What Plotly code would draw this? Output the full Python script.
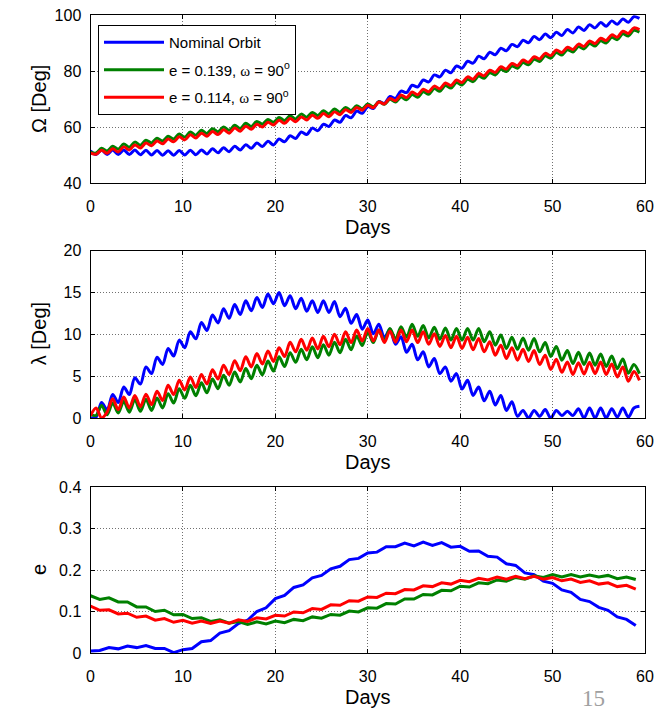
import numpy as np
import plotly.graph_objects as go

W, H = 665, 711

# ---------------- data ----------------
series_names = ["Nominal Orbit",
                "e = 0.139, <span style='font-family:Liberation Serif'>ω</span> = 90<sup>o</sup>",
                "e = 0.114, <span style='font-family:Liberation Serif'>ω</span> = 90<sup>o</sup>"]
colors = ["#0000FF", "#008000", "#FF0000"]

# time samples (days) for the oscillating RAAN / lambda histories
days_osc = np.arange(100) * 0.6
# time samples (days) for eccentricity histories
days_e = np.arange(60) * 1.0

raan_nominal = [51.5, 50.2, 51.8, 50.2, 51.8, 50.2, 51.8, 50.2, 51.8, 50.1,
                51.7, 50.0, 51.6, 49.9, 51.5, 49.9, 51.6, 50.0, 51.7, 50.1,
                51.8, 50.4, 52.2, 50.8, 52.6, 51.2, 53.1, 51.8, 53.7, 52.4,
                54.3, 53.0, 54.9, 53.6, 55.7, 54.7, 56.9, 55.9, 58.2, 57.3,
                59.6, 58.7, 61.0, 60.2, 62.5, 61.7, 64.1, 63.3, 65.7, 64.9,
                67.3, 66.6, 69.1, 68.4, 70.9, 70.2, 72.8, 72.3, 74.9, 74.3,
                76.8, 76.1, 78.6, 77.9, 80.3, 79.4, 81.8, 81.0, 83.5, 82.8,
                85.3, 84.4, 86.7, 85.8, 88.1, 87.2, 89.5, 88.7, 91.0, 90.1,
                92.3, 91.2, 93.2, 91.9, 93.8, 92.7, 94.8, 93.6, 95.7, 94.5,
                96.5, 95.4, 97.3, 96.0, 97.9, 96.7, 98.6, 97.4, 99.4, 98.8]
raan_e139 = [51.0, 50.7, 52.4, 51.4, 53.1, 52.1, 53.9, 52.8, 54.6, 53.5,
             55.3, 54.3, 56.0, 55.0, 56.7, 55.7, 57.5, 56.4, 58.2, 57.1,
             58.8, 57.7, 59.4, 58.3, 60.0, 58.8, 60.6, 59.5, 61.3, 60.2,
             62.0, 61.0, 62.7, 61.7, 63.4, 62.3, 64.0, 62.9, 64.6, 63.5,
             65.2, 64.1, 65.8, 64.7, 66.4, 65.3, 67.0, 65.9, 67.6, 66.5,
             68.2, 67.2, 69.0, 68.1, 69.9, 68.9, 70.7, 69.7, 71.6, 70.6,
             72.6, 71.7, 73.7, 72.8, 74.8, 73.9, 75.9, 75.0, 77.0, 76.2,
             78.2, 77.4, 79.4, 78.6, 80.6, 79.8, 81.8, 81.0, 83.0, 82.2,
             84.2, 83.4, 85.4, 84.6, 86.6, 85.7, 87.6, 86.8, 88.7, 87.9,
             89.8, 88.9, 90.8, 90.0, 92.0, 91.2, 93.3, 92.5, 94.5, 93.9]
raan_e114 = [50.7, 50.3, 51.7, 50.6, 52.2, 51.1, 52.9, 51.8, 53.6, 52.5,
             54.3, 53.3, 55.0, 54.0, 55.7, 54.7, 56.5, 55.4, 57.2, 56.1,
             57.8, 56.7, 58.4, 57.3, 59.0, 57.8, 59.6, 58.5, 60.3, 59.2,
             61.0, 60.0, 61.7, 60.7, 62.4, 61.3, 63.0, 61.9, 63.6, 62.5,
             64.2, 63.1, 64.8, 63.7, 65.4, 64.4, 66.2, 65.2, 67.0, 66.0,
             67.8, 66.9, 68.9, 68.2, 70.2, 69.4, 71.4, 70.5, 72.5, 71.5,
             73.5, 72.6, 74.6, 73.7, 75.7, 74.8, 76.8, 75.9, 77.9, 77.1,
             79.1, 78.3, 80.3, 79.5, 81.5, 80.7, 82.7, 81.9, 83.9, 83.1,
             85.1, 84.3, 86.3, 85.5, 87.5, 86.6, 88.5, 87.7, 89.6, 88.8,
             90.7, 89.8, 91.7, 90.9, 92.9, 92.1, 94.2, 93.4, 95.4, 94.8]

lam_nominal = [0.0, 0.1, 1.85, 0.95, 2.8, 1.85, 3.7, 2.8, 4.8, 4.05,
               6.1, 5.3, 7.25, 6.4, 8.3, 7.4, 9.3, 8.4, 10.3, 9.45,
               11.4, 10.45, 12.3, 11.35, 13.05, 11.9, 13.55, 12.35, 14.0, 12.8,
               14.4, 13.2, 14.8, 13.65, 15.0, 13.4, 14.6, 13.05, 14.3, 12.75,
               14.0, 12.6, 14.0, 12.6, 13.9, 12.1, 13.1, 11.3, 12.35, 10.6,
               11.7, 10.05, 11.2, 9.6, 10.6, 8.8, 9.7, 7.85, 8.8, 6.95,
               7.9, 6.1, 7.1, 5.3, 6.1, 4.4, 5.3, 3.45, 4.5, 2.7,
               3.7, 2.05, 3.2, 1.55, 2.7, 0.9, 1.95, 0.2, 0.9, 0.0,
               0.9, 0.2, 1.0, 0.0, 0.9, 0.3, 0.8, 0.3, 1.1, 0.0,
               1.2, 0.0, 1.2, 0.0, 1.1, 0.1, 1.2, 0.1, 1.2, 1.4]
lam_e139 = [0.4, 0.3, 1.5, 0.4, 1.8, 0.6, 2.0, 0.7, 2.2, 0.8,
            2.25, 0.9, 2.4, 1.2, 2.9, 1.8, 3.5, 2.35, 3.9, 2.65,
            4.2, 3.0, 4.65, 3.5, 5.1, 3.9, 5.5, 4.3, 5.9, 4.7,
            6.3, 5.15, 6.8, 5.6, 7.3, 6.15, 7.8, 6.65, 8.2, 6.95,
            8.5, 7.2, 8.75, 7.5, 9.05, 7.8, 9.4, 8.15, 9.8, 8.65,
            10.3, 9.0, 10.5, 9.2, 10.7, 9.4, 10.9, 9.65, 11.2, 9.75,
            11.05, 9.55, 10.85, 9.4, 10.75, 9.3, 10.7, 9.3, 10.7, 9.3,
            10.7, 9.1, 10.3, 8.7, 9.9, 8.3, 9.65, 8.2, 9.55, 8.1,
            9.5, 7.9, 9.0, 7.35, 8.55, 6.9, 8.05, 6.5, 7.85, 6.4,
            7.75, 6.3, 7.65, 6.15, 7.4, 5.9, 7.05, 5.35, 6.4, 5.3]
lam_e114 = [0.3, 1.2, 0.0, 0.7, 2.3, 1.0, 2.5, 1.2, 2.7, 1.35,
            2.85, 1.6, 3.2, 2.1, 3.9, 2.8, 4.5, 3.35, 4.9, 3.65,
            5.2, 4.05, 5.75, 4.65, 6.3, 5.2, 6.85, 5.65, 7.3, 6.1,
            7.7, 6.45, 8.0, 6.75, 8.4, 7.35, 9.05, 7.9, 9.4, 8.1,
            9.55, 8.25, 9.75, 8.5, 10.0, 8.75, 10.3, 9.0, 10.5, 9.2,
            10.7, 9.2, 10.5, 9.0, 10.4, 9.05, 10.5, 9.1, 10.5, 9.0,
            10.3, 8.8, 10.05, 8.55, 9.85, 8.4, 9.75, 8.3, 9.65, 8.15,
            9.5, 7.9, 9.1, 7.5, 8.7, 7.1, 8.4, 6.9, 8.2, 6.75,
            8.05, 6.4, 7.5, 5.8, 7.0, 5.45, 6.7, 5.2, 6.6, 5.25,
            6.65, 5.3, 6.7, 5.2, 6.45, 4.9, 6.1, 4.4, 5.55, 4.5]

ecc_nominal = [0.005, 0.006, 0.013, 0.010, 0.017, 0.013, 0.018, 0.011, 0.011, 0.001,
               0.008, 0.011, 0.027, 0.030, 0.048, 0.054, 0.071, 0.079, 0.100, 0.109,
               0.131, 0.139, 0.158, 0.164, 0.181, 0.187, 0.203, 0.209, 0.225, 0.228,
               0.241, 0.243, 0.256, 0.256, 0.265, 0.258, 0.267, 0.259, 0.266, 0.255,
               0.257, 0.245, 0.246, 0.233, 0.231, 0.215, 0.211, 0.193, 0.189, 0.173,
               0.168, 0.152, 0.146, 0.129, 0.124, 0.110, 0.103, 0.087, 0.081, 0.066]
ecc_e139 = [0.138, 0.129, 0.133, 0.123, 0.123, 0.111, 0.111, 0.100, 0.103, 0.092,
            0.093, 0.083, 0.085, 0.076, 0.080, 0.072, 0.076, 0.069, 0.075, 0.070,
            0.077, 0.073, 0.081, 0.078, 0.087, 0.084, 0.093, 0.091, 0.101, 0.099,
            0.109, 0.108, 0.119, 0.118, 0.130, 0.130, 0.141, 0.140, 0.151, 0.150,
            0.161, 0.159, 0.169, 0.167, 0.176, 0.173, 0.182, 0.178, 0.186, 0.182,
            0.189, 0.183, 0.189, 0.183, 0.188, 0.183, 0.187, 0.179, 0.183, 0.177]
ecc_e114 = [0.113, 0.103, 0.104, 0.094, 0.096, 0.086, 0.089, 0.079, 0.083, 0.074,
            0.079, 0.072, 0.077, 0.071, 0.077, 0.072, 0.080, 0.076, 0.085, 0.082,
            0.091, 0.089, 0.099, 0.097, 0.107, 0.105, 0.116, 0.115, 0.126, 0.125,
            0.135, 0.134, 0.144, 0.143, 0.153, 0.152, 0.162, 0.160, 0.169, 0.166,
            0.175, 0.172, 0.180, 0.176, 0.183, 0.178, 0.185, 0.179, 0.185, 0.178,
            0.182, 0.174, 0.178, 0.170, 0.174, 0.166, 0.169, 0.160, 0.163, 0.154]

x_ticks = [0, 10, 20, 30, 40, 50, 60]
raan_ticks = [40, 60, 80, 100]
lam_ticks = [0, 5, 10, 15, 20]
ecc_ticks = [0, 0.1, 0.2, 0.3, 0.4]

y_titles = ["Ω [Deg]", "λ [Deg]", "e"]
x_title = "Days"

# ---------------- layout geometry (pixels) ----------------
left_px, right_px = 90.5, 645
panels_px = [(15, 183), (250.5, 418), (487, 653)]

def py(v):
    return 1 - v / H

FONT = "Liberation Sans, Arial, sans-serif"

fig = go.Figure()

panel_data = [
    (days_osc, [raan_nominal, raan_e139, raan_e114], "spline"),
    (days_osc, [lam_nominal, lam_e139, lam_e114], "spline"),
    (days_e, [ecc_nominal, ecc_e139, ecc_e114], "linear"),
]
for p, (xs, ys_list, shape) in enumerate(panel_data):
    suffix = "" if p == 0 else str(p + 1)
    for k, ys in enumerate(ys_list):
        fig.add_trace(go.Scatter(
            x=xs, y=ys, mode="lines", name=series_names[k],
            line=dict(color=colors[k], width=3, shape=shape, smoothing=0.9),
            xaxis="x" + suffix, yaxis="y" + suffix,
            showlegend=(p == 0), legendgroup="g%d" % k,
        ))

axis_common = dict(
    showline=True, linecolor="black", linewidth=1, mirror="ticks",
    ticks="inside", ticklen=4, tickcolor="black",
    showgrid=True, gridcolor="#707070", gridwidth=1, griddash="1px,2px",
    zeroline=False, automargin=False,
    tickfont=dict(family=FONT, size=16, color="black"),
)
y_ranges = [[40, 100], [0, 20], [0, 0.4]]
y_tickvals = [raan_ticks, lam_ticks, ecc_ticks]

layout = dict(
    width=W, height=H, margin=dict(l=0, r=0, t=0, b=0, autoexpand=False),
    paper_bgcolor="white", plot_bgcolor="white",
    font=dict(family=FONT, size=16, color="black"),
    showlegend=True,
    legend=dict(x=98 / W, y=py(25), xanchor="left", yanchor="top",
                bordercolor="black", borderwidth=1, bgcolor="white",
                font=dict(family=FONT, size=15, color="black"),
                tracegroupgap=5, itemwidth=60, traceorder="grouped"),
)
annotations = []
for p, (top, bot) in enumerate(panels_px):
    suffix = "" if p == 0 else str(p + 1)
    layout["xaxis" + suffix] = dict(
        axis_common, domain=[left_px / W, right_px / W], range=[0, 60],
        tickvals=x_ticks, anchor="y" + suffix, ticklabelstandoff=9,
    )
    layout["yaxis" + suffix] = dict(
        axis_common, domain=[py(bot), py(top)], range=y_ranges[p],
        tickvals=y_tickvals[p], anchor="x" + suffix, ticklabelstandoff=5,
    )
    annotations.append(dict(
        text=y_titles[p], x=39 / W, y=py((top + bot) / 2), xref="paper", yref="paper",
        textangle=-90, showarrow=False, xanchor="center", yanchor="middle",
        font=dict(family=FONT, size=20, color="black"),
    ))
    annotations.append(dict(
        text=x_title, x=(left_px + right_px) / 2 / W, y=py(bot + 44), xref="paper", yref="paper",
        showarrow=False, xanchor="center", yanchor="middle",
        font=dict(family=FONT, size=20, color="black"),
    ))

annotations.append(dict(
    text="15", x=593 / W, y=py(698), xref="paper", yref="paper",
    showarrow=False, xanchor="center", yanchor="middle",
    font=dict(family="Liberation Serif, serif", size=23, color="#a0a0a0"),
))
layout["annotations"] = annotations
fig.update_layout(**layout)

fig.write_html("out.html", config={"displayModeBar": False},
               post_script="document.body.style.margin='0';document.body.style.overflow='hidden';")
